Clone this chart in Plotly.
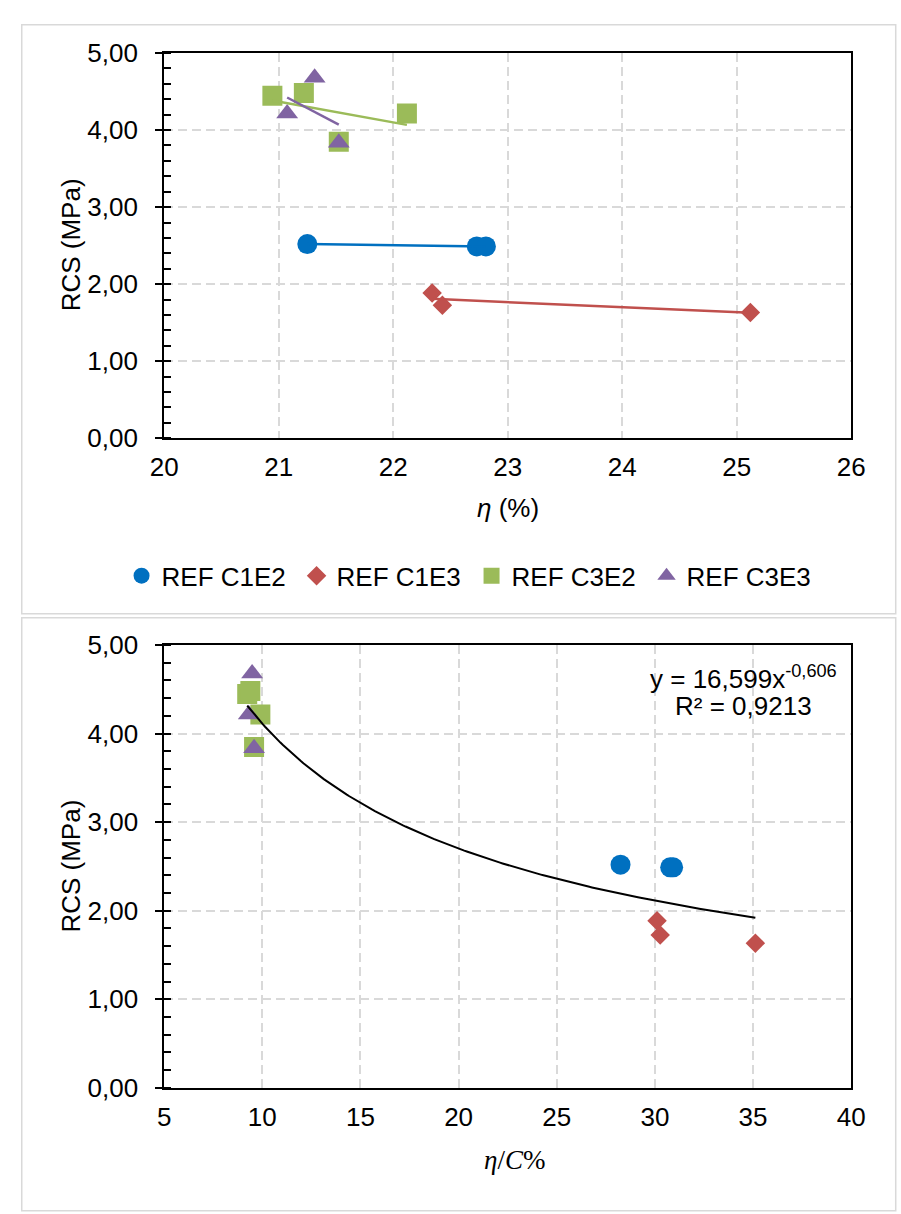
import numpy as np
import plotly.graph_objects as go

W, H = 901, 1214

# RCS (MPa) against porosity eta (%)
c1e2_eta = [21.25, 22.73, 22.81]
c1e2_rcs = [2.52, 2.49, 2.49]
c1e3_eta = [22.34, 22.43, 25.12]
c1e3_rcs = [1.886, 1.725, 1.633]
c3e2_eta = [20.945, 21.22, 22.12, 21.525]
c3e2_rcs = [4.447, 4.48, 4.215, 3.85]
c3e3_eta = [21.074, 21.314, 21.525]
c3e3_rcs = [4.215, 4.68, 3.835]

# same specimens against eta/C (%)
c1e2_etac = [28.25, 30.78, 30.93]
c1e3_etac = [30.11, 30.27, 35.12]
c3e2_etac = [9.23, 9.39, 9.90, 9.58]
c3e3_etac = [9.31, 9.48, 9.58]

# power trend line of the lower chart: y = a * x^b
power_a = 16.599
power_b = -0.606
eq_label = "y = 16,599x<sup>-0,606</sup>"
r2_label = "R² = 0,9213"

series = [
    ("REF C1E2", c1e2_eta, c1e2_etac, c1e2_rcs, "#0070C0", "circle", 20),
    ("REF C1E3", c1e3_eta, c1e3_etac, c1e3_rcs, "#C0504D", "diamond", 15),
    ("REF C3E2", c3e2_eta, c3e2_etac, c3e2_rcs, "#9BBB59", "square", 20),
    ("REF C3E3", c3e3_eta, c3e3_etac, c3e3_rcs, "#8064A2", "triangle-up", 19),
]

FONT = "Liberation Sans, Arial, sans-serif"
FS = 26
fig = go.Figure()

# upper chart: markers, then a linear trend line per series on top
for name, xe, xc, y, col, sym, sz in series:
    fig.add_trace(go.Scatter(x=xe, y=y, mode="markers", name=name,
                             marker=dict(color=col, symbol=sym, size=sz),
                             xaxis="x", yaxis="y"))

for name, xe, xc, y, col, sym, sz in series:
    k, c = np.polyfit(xe, y, 1)
    xs = np.array([min(xe), max(xe)])
    fig.add_trace(go.Scatter(x=xs, y=k * xs + c, mode="lines",
                             line=dict(color=col, width=2.5),
                             showlegend=False, hoverinfo="skip",
                             xaxis="x", yaxis="y"))

# lower chart: markers, then the power trend line
for name, xe, xc, y, col, sym, sz in series:
    fig.add_trace(go.Scatter(x=xc, y=y, mode="markers", name=name,
                             marker=dict(color=col, symbol=sym, size=sz),
                             showlegend=False, xaxis="x2", yaxis="y2"))

all_c = c1e2_etac + c1e3_etac + c3e2_etac + c3e3_etac
xp = np.linspace(min(all_c), max(all_c), 200)
fig.add_trace(go.Scatter(x=xp, y=power_a * xp ** power_b, mode="lines",
                         line=dict(color="black", width=2),
                         showlegend=False, hoverinfo="skip",
                         xaxis="x2", yaxis="y2"))

tickfont = dict(family=FONT, size=FS, color="black")
grid = dict(showgrid=True, gridcolor="#d9d9d9", gridwidth=1.5, griddash="9px,5px")

def xax(rng, dtick, anchor, lw):
    return dict(domain=[155 / W, 864 / W], range=rng, dtick=dtick, anchor=anchor,
                showline=True, mirror=True, linecolor="black", linewidth=lw,
                ticks="", tickfont=tickfont, ticklabelstandoff=5,
                zeroline=False, fixedrange=True, **grid)

def yax(top, bottom, anchor, lw):
    return dict(domain=[1 - bottom / H, 1 - top / H], range=[0, 5], dtick=1,
                anchor=anchor, tickformat=".2f",
                showline=True, mirror=True, linecolor="black", linewidth=lw,
                ticks="outside", ticklen=7, tickwidth=1.5, tickcolor="black",
                minor=dict(dtick=0.2, ticks="inside", ticklen=7, tickwidth=1.5,
                           tickcolor="black", showgrid=False),
                tickfont=tickfont, ticklabelstandoff=12,
                zeroline=False, fixedrange=True, **grid)

ann = [
    dict(x=59 / W, y=1 - 236 / H, text="RCS (MPa)", textangle=-90),
    dict(x=59 / W, y=1 - 873 / H, text="RCS (MPa)", textangle=-90),
    dict(x=510 / W, y=1 - 506 / H, text="<i>η</i> (%)"),
    dict(x=517 / W, y=1 - 1174 / H,
         text="<i>η</i>/<i>C</i>%",
         font=dict(family="Liberation Serif, DejaVu Serif, serif", size=27, color="black")),
    dict(x=753 / W, y=1 - 679 / H, text=eq_label),
    dict(x=753 / W, y=1 - 709 / H, text=r2_label),
]
annotations = []
for a in ann:
    base = dict(xref="paper", yref="paper", showarrow=False,
                xanchor="center", yanchor="middle",
                font=dict(family=FONT, size=FS, color="black"))
    base.update(a)
    annotations.append(base)

frame = dict(color="#d9d9d9", width=1.5)
shapes = [
    dict(type="rect", xref="paper", yref="paper",
         x0=8 / W, x1=1.01, y0=1 - 614 / H, y1=1 - 10 / H, line=frame),
    dict(type="rect", xref="paper", yref="paper",
         x0=8 / W, x1=1.01, y0=-0.01, y1=1 - 618 / H, line=frame),
]

fig.update_layout(
    width=W, height=H, margin=dict(l=0, r=0, t=0, b=0),
    paper_bgcolor="white", plot_bgcolor="white",
    separators=",.",
    font=dict(family=FONT, size=FS, color="black"),
    xaxis=xax([20, 26], 1, "y", 2),
    yaxis=yax(39, 434, "x", 2),
    xaxis2=xax([5, 40], 5, "y2", 1.5),
    yaxis2=yax(646, 1100, "x2", 1.5),
    legend=dict(orientation="h", x=111 / W, y=1 - 575 / H,
                xanchor="left", yanchor="middle",
                font=dict(family=FONT, size=FS, color="black"),
                itemwidth=30, entrywidth=130, entrywidthmode="pixels",
                bgcolor="rgba(0,0,0,0)"),
    annotations=annotations,
    shapes=shapes,
)

fig.write_html("out.html")
